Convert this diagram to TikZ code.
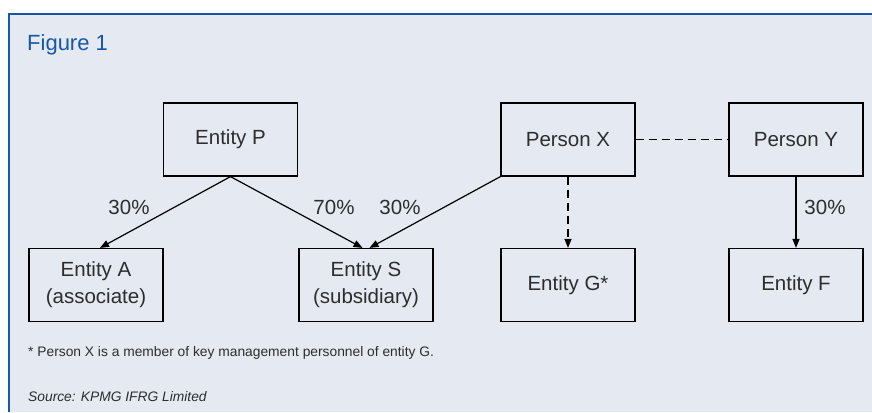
\documentclass[tikz,border=0pt]{standalone}
\usepackage{fontspec}
\setmainfont{Liberation Sans}
\usetikzlibrary{arrows.meta}
\definecolor{panelbg}{RGB}{229,233,242}
\definecolor{kpmgblue}{RGB}{22,88,166}
\definecolor{boxtext}{RGB}{45,45,45}

\begin{document}
\begin{tikzpicture}[x=1pt, y=-1pt,
    box/.style={draw=black, line width=1.2pt, minimum width=134pt, minimum height=73pt,
        inner sep=0pt, align=center, text=boxtext, font=\fontsize{20.5}{27}\selectfont},
    pct/.style={text=boxtext, inner sep=0pt, font=\fontsize{20.5}{24}\selectfont},
    link/.style={line width=1.2pt, -{Triangle[length=9pt, width=7pt]}},
    note/.style={anchor=west, text=boxtext, inner sep=0pt, font=\fontsize{13.8}{16}\selectfont}]
        \useasboundingbox (0,0) rectangle (872,412);

        % Draw the panel
        \fill[panelbg] (9,14) rectangle (872,412);
        \draw[kpmgblue, line width=2pt] (9,412) -- (9,14) -- (872,14);
        \node[anchor=west, inner sep=0pt, text=kpmgblue, font=\fontsize{22}{26}\selectfont] (title) at (27,45) {Figure 1};

        % Draw top row
        \node[box] (entp) at (230.5,139.5) {Entity P};
        \node[box] (perx) at (568,139.5) {Person X};
        \node[box] (pery) at (796,139.5) {Person Y};

        % Draw bottom row
        \node[box] (enta) at (96,285) {Entity A\\(associate)};
        \node[box] (ents) at (366,285) {Entity S\\(subsidiary)};
        \node[box] (entg) at (568,285) {Entity G*};
        \node[box] (entf) at (796,285) {Entity F};

        % Draw holdings
        \draw[link] (entp.south) -- ([xshift=4pt]enta.north);
        \draw[link] (entp.south) -- ([xshift=-3.5pt]ents.north);
        \draw[link] (perx.south west) -- ([xshift=3.5pt]ents.north);
        \draw[link] (pery.south) -- (entf.north);
        \draw[link, dash pattern=on 8pt off 5pt] (perx.south) -- (entg.north);
        \draw[line width=1.2pt, dash pattern=on 8pt off 5pt] (perx.east) -- (pery.west);

        % Draw percentages
        \node[pct] (pa) at (129,207) {30\%};
        \node[pct] (ps) at (334,207) {70\%};
        \node[pct] (px) at (400,207) {30\%};
        \node[pct] (pf) at (825,207) {30\%};

        % Draw notes
        \node[note] (star) at (28,353) {* Person X is a member of key management personnel of entity G.};
        \node[note, font=\fontsize{13.8}{16}\selectfont\itshape] (source) at (28,397) {Source: KPMG IFRG Limited};
\end{tikzpicture}
\end{document}
